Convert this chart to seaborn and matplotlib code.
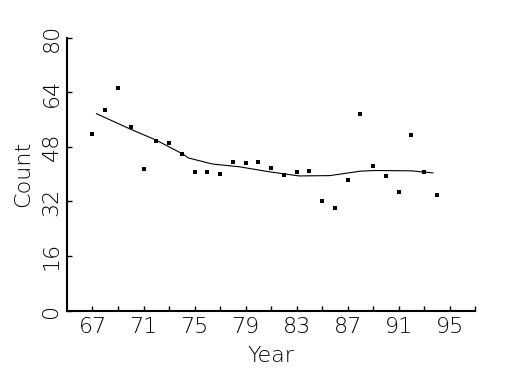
import matplotlib
matplotlib.use("Agg")
import matplotlib.pyplot as plt
import seaborn as sns
import pandas as pd
from matplotlib.ticker import FixedLocator

# Data
years = [67, 68, 69, 70, 71, 72, 73, 74, 75, 76, 77, 78, 79, 80,
         81, 82, 83, 84, 85, 86, 87, 88, 89, 90, 91, 92, 93, 94]
counts = [51.9, 59.0, 65.2, 54.0, 41.6, 49.8, 49.3, 45.9, 40.8, 40.7, 40.0, 43.6, 43.3, 43.6,
          41.7, 39.7, 40.6, 41.0, 32.1, 30.0, 38.2, 57.6, 42.3, 39.4, 34.7, 51.5, 40.7, 33.8]

smooth_years = [67.3, 70.0, 72.0, 74.1, 74.5, 76.4, 78.5, 80.9, 83.2, 85.6, 88.0, 89.1, 92.0, 93.7]
smooth_counts = [57.8, 53.2, 50.0, 45.9, 44.8, 43.0, 42.2, 40.7, 39.5, 39.6, 40.9, 41.1, 41.0, 40.4]

xtick_labels = [67, 71, 75, 79, 83, 87, 91, 95]
xtick_minor = [69, 73, 77, 81, 85, 89, 93, 97]
ytick_labels = [0, 16, 32, 48, 64, 80]

pts = pd.DataFrame({"Year": years, "Count": counts})
fit = pd.DataFrame({"Year": smooth_years, "Count": smooth_counts})

sns.set_style("white")
plt.rcParams["font.family"] = ["DejaVu Sans"]
plt.rcParams["text.color"] = "black"
plt.rcParams["axes.labelcolor"] = "black"
plt.rcParams["xtick.color"] = "black"
plt.rcParams["ytick.color"] = "black"

fig = plt.figure(figsize=(5.25, 3.75), dpi=100)
ax = fig.add_axes([0.1276, 0.172, 0.7774, 0.7267])

sns.lineplot(data=fit, x="Year", y="Count", ax=ax, color="black", linewidth=0.8)
sns.scatterplot(data=pts, x="Year", y="Count", ax=ax, color="black", marker="s",
                s=6, linewidth=0)

ax.set_xlim(65, 97)
ax.set_ylim(0, 80)
ax.xaxis.set_major_locator(FixedLocator(xtick_labels))
ax.xaxis.set_minor_locator(FixedLocator(xtick_minor))
ax.yaxis.set_major_locator(FixedLocator(ytick_labels))
ax.set_xticklabels([str(v) for v in xtick_labels])
ax.set_yticklabels([str(v) for v in ytick_labels], rotation=90, va="center")

for s in ["top", "right"]:
    ax.spines[s].set_visible(False)
for s in ["left", "bottom"]:
    ax.spines[s].set_linewidth(1.5)
    ax.spines[s].set_color("black")

ax.tick_params(axis="both", which="both", direction="in", length=3.5, width=1,
               color="black", labelcolor="black", labelsize=16, pad=5,
               bottom=True, left=True, top=False, right=False)
ax.tick_params(axis="y", pad=4)
for lab in ax.get_xticklabels() + ax.get_yticklabels():
    lab.set_fontweight("light")

ax.set_xlabel("Year", fontsize=16, fontweight="light", labelpad=6, color="black")
ax.set_ylabel("Count", fontsize=16, fontweight="light", labelpad=6, color="black")
ax.grid(False)

fig.savefig("out.png", dpi=100, facecolor="white")
